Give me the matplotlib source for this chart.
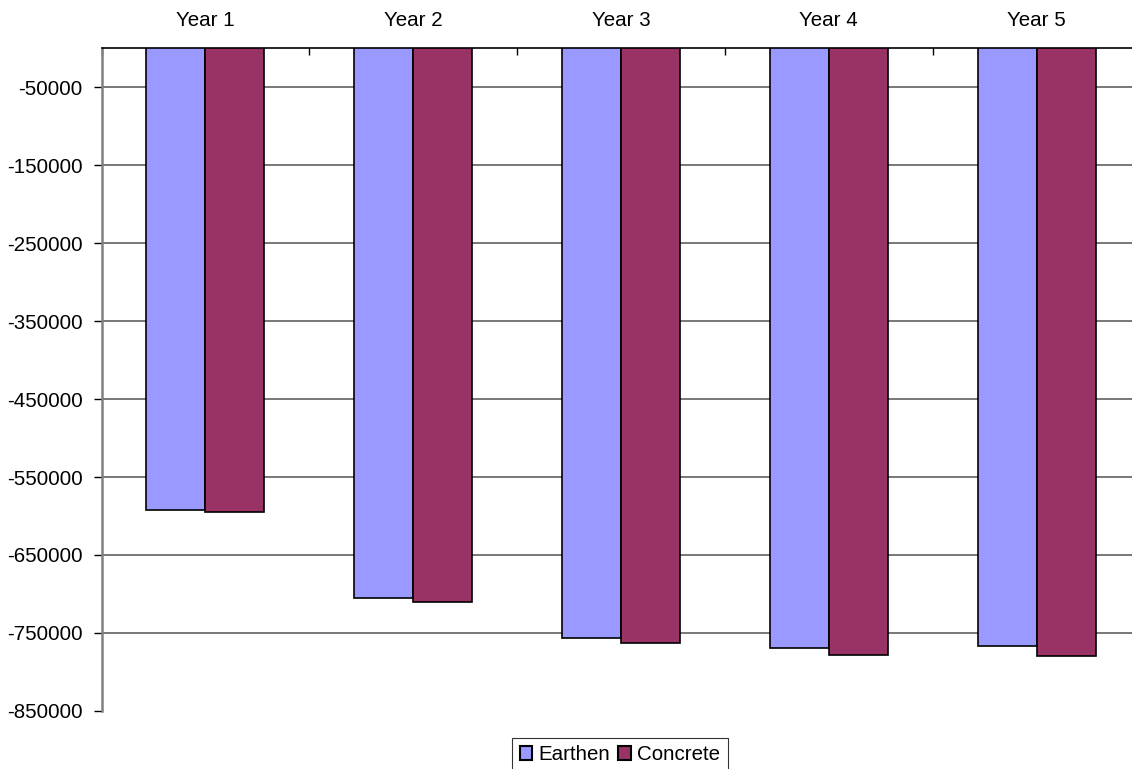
import numpy as np
import matplotlib.pyplot as plt
from matplotlib.ticker import FixedLocator

# data
years = ["Year 1", "Year 2", "Year 3", "Year 4", "Year 5"]
earthen = [-592000, -705000, -756000, -769000, -767000]
concrete = [-595000, -710000, -763000, -778000, -779000]
y_ticks = [-50000, -150000, -250000, -350000, -450000, -550000, -650000, -750000, -850000]

plt.rcParams['font.family'] = ['Liberation Sans', 'DejaVu Sans']
fs = 14.8

fig = plt.figure(figsize=(11.32, 7.69), dpi=100)
ax = fig.add_axes([101.5 / 1132, 1 - 711 / 769, 1039 / 1132, 663 / 769])

x = np.arange(len(years))
w = 0.284
ax.bar(x - w / 2, earthen, w, color='#9999FF', edgecolor='black', linewidth=1.2, label='Earthen', zorder=3)
ax.bar(x + w / 2, concrete, w, color='#993366', edgecolor='black', linewidth=1.2, label='Concrete', zorder=3)

ax.set_xlim(-0.5, len(years) - 0.5)
ax.set_ylim(-850000, 0)

# category labels on top, boundary ticks pointing down into plot
ax.xaxis.tick_top()
ax.set_xticks(x)
ax.set_xticklabels(years, fontsize=fs)
ax.tick_params(axis='x', which='major', length=0, pad=13)
ax.xaxis.set_minor_locator(FixedLocator(np.arange(-0.5, len(years), 1.0)))
ax.tick_params(axis='x', which='minor', direction='in', length=5, width=1, color='black', top=True)

ax.set_yticks(y_ticks)
ax.set_yticklabels([str(v) for v in y_ticks], fontsize=fs)
ax.tick_params(axis='y', direction='out', length=6, width=1, color='black', pad=7.5)

# gridlines (none at the bottom limit)
for v in y_ticks[:-1]:
    ax.axhline(v, color='#606060', linewidth=1.2, zorder=1)

for s in ['right', 'bottom']:
    ax.spines[s].set_visible(False)
ax.spines['left'].set_color('#808080')
ax.spines['left'].set_linewidth(1.8)
ax.spines['top'].set_color('black')
ax.spines['top'].set_linewidth(1.2)

leg = fig.legend(loc='upper center', bbox_to_anchor=(620 / 1132, 1 - 738 / 769), ncol=2,
                 fontsize=fs, frameon=True, fancybox=False, edgecolor='black',
                 handlelength=0.62, handleheight=0.62, handletextpad=0.3,
                 columnspacing=0.4, borderpad=0.35, borderaxespad=0)
leg.get_frame().set_linewidth(0.8)
for h in leg.legend_handles:
    h.set_linewidth(1.5)

fig.savefig('out.png', dpi=100)
